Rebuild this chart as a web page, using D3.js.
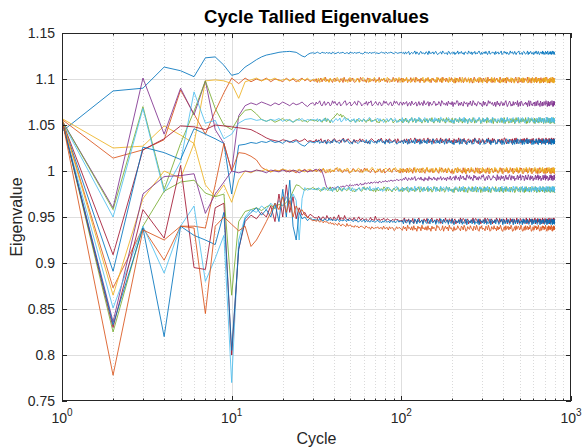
<!DOCTYPE html>
<html><head><meta charset="utf-8">
<script src="https://cdn.jsdelivr.net/npm/d3@7"></script>
<style>body{margin:0;background:#fff}svg{display:block}</style>
</head><body><svg id="c" width="582" height="448"></svg>
<script>
// ---- data ----
const colors = ["#0072BD","#D95319","#EDB120","#7E2F8E","#77AC30","#4DBEEE","#A2142F"];
const yTicks = [0.75,0.8,0.85,0.9,0.95,1,1.05,1.1,1.15];
const yTickLabels = ["0.75","0.8","0.85","0.9","0.95","1","1.05","1.1","1.15"];
const xTicks = [1,10,100,1000];
const xTickExps = ["0","1","2","3"];
const earlyCycles = d3.range(1,31);        // cycles 1..30
const midRange = [31,100], lateRange = [100,800];
const midCodeStep = 0.0007, lateCodeStep = 0.0005;   // value per code unit; code 'i' (18) = level
const levels = [1.1285,1.099,1.099,1.0735,1.055,1.0555,1.033,1.032,1.0005,1.001,0.993,0.980,0.9805,0.946,0.945,0.938];

const early0 = [1.043,1.087,1.090,1.113,1.109,1.1025,1.123,1.124,1.115,1.104,1.106,1.113,1.117,1.121,1.124,1.126,1.127,1.128,1.129,1.1295,1.1298,1.130,1.1295,1.129,1.127,1.125,1.124,1.1265,1.128,1.1285];
const early1 = [1.056,1.014,1.023,1.034,1.088,1.062,1.040,1.065,1.085,1.101,1.095,1.101,1.097,1.100,1.098,1.101,1.097,1.100,1.099,1.097,1.101,1.098,1.100,1.097,1.099,1.101,1.098,1.100,1.097,1.099];
const early2 = [1.057,1.025,1.027,1.049,1.039,1.030,1.098,1.099,1.098,1.095,1.079,1.097,1.099,1.101,1.098,1.100,1.099,1.101,1.098,1.099,1.100,1.098,1.101,1.099,1.097,1.100,1.099,1.101,1.098,1.099];
const early3 = [1.055,0.960,1.101,1.040,1.090,1.061,1.098,1.045,1.030,1.000,1.060,1.071,1.074,1.072,1.075,1.073,1.071,1.074,1.072,1.075,1.073,1.071,1.074,1.072,1.073,1.075,1.072,1.070,1.073,1.074];
const early4 = [1.055,0.958,1.070,0.980,1.030,1.065,1.098,1.068,1.050,1.045,1.058,1.066,1.067,1.062,1.056,1.054,1.056,1.053,1.055,1.057,1.054,1.056,1.053,1.055,1.057,1.054,1.055,1.053,1.056,1.055];
const early5 = [1.054,0.950,1.068,0.977,1.010,1.086,1.052,1.055,1.035,1.040,1.052,1.056,1.057,1.055,1.056,1.054,1.056,1.055,1.057,1.054,1.056,1.055,1.053,1.056,1.055,1.057,1.054,1.056,1.055,1.056];
const early6 = [1.055,0.909,1.023,1.035,1.049,1.048,1.045,1.050,1.049,1.048,1.047,1.046,1.045,1.042,1.039,1.036,1.034,1.033,1.032,1.034,1.033,1.031,1.033,1.034,1.032,1.033,1.035,1.032,1.033,1.032];
const early7 = [1.055,0.891,1.026,1.020,1.0125,1.046,1.040,1.035,1.030,0.975,1.028,1.029,1.031,1.030,1.032,1.031,1.033,1.031,1.032,1.030,1.033,1.032,1.031,1.033,1.030,1.028,1.027,1.030,1.032,1.031];
const early8 = [1.056,0.873,0.938,0.903,0.940,0.940,0.938,0.985,1.030,1.000,1.020,1.019,1.016,1.012,1.004,1.001,0.999,1.001,1.000,1.002,0.999,1.001,1.000,0.998,1.001,1.000,1.002,0.999,1.001,1.000];
const early9 = [1.057,0.865,0.970,1.000,0.992,1.030,0.985,0.972,0.985,0.966,0.990,1.000,0.998,1.001,1.000,1.002,0.999,1.001,1.000,1.002,1.001,0.999,1.001,1.000,1.002,1.000,0.999,1.001,1.002,1.000];
const early10 = [1.055,0.836,0.975,0.994,0.995,0.997,0.954,0.975,0.988,1.000,0.998,1.000,0.999,1.001,1.000,0.998,1.001,1.000,0.999,1.001,1.000,0.999,1.001,1.000,0.998,1.000,1.001,0.999,1.000,1.000];
const early11 = [1.055,0.825,0.940,0.978,0.988,0.990,0.976,0.972,0.975,0.865,0.945,0.956,0.958,0.960,0.957,0.961,0.963,0.959,0.964,0.962,0.966,0.970,0.978,0.985,0.984,0.981,0.979,0.981,0.980,0.982];
const early12 = [1.054,0.851,0.940,0.889,0.940,0.962,0.880,0.905,0.930,0.770,0.925,0.950,0.958,0.955,0.962,0.958,0.965,0.960,0.968,0.962,0.972,0.964,0.975,0.968,0.925,0.970,0.982,0.979,0.981,0.980];
const early13 = [1.055,0.830,0.958,0.927,1.006,0.895,0.893,0.960,0.965,0.800,0.915,0.945,0.952,0.948,0.955,0.950,0.962,0.945,0.975,0.950,0.985,0.955,0.972,0.948,0.960,0.952,0.955,0.949,0.953,0.951];
const early14 = [1.055,0.833,0.938,0.820,0.940,0.930,0.925,0.920,0.955,0.805,0.915,0.948,0.955,0.960,0.952,0.958,0.950,0.965,0.945,0.980,0.950,0.990,0.940,0.925,0.955,0.948,0.950,0.946,0.949,0.947];
const early15 = [1.056,0.778,0.936,0.925,0.940,0.938,0.845,0.940,0.950,0.942,0.935,0.940,0.918,0.925,0.935,0.945,0.955,0.965,0.958,0.972,0.955,0.968,0.950,0.962,0.955,0.958,0.952,0.950,0.948,0.946];

// mid section codes (cycles 31..100), one base36 char per sample
const mid0 = "hijihhjiihjhiigjihhijhiijhhiigjiihjhiijhhgijiihjhiijhihhijiihjhiijihhjihiij";
const mid1 = "gkeihlfjhmgifkhejlgihfkjemgihkfjlgehikfmjghielkfhjgkeihmfjhlgiekjhfmigkejhl";
const mid2 = "jfhlegkimfhjelgikfhmjegilkfhejmgikhfljegimkfhjelgikmfhjegkilfhmjegikfljhmeg";
const mid3 = "fkhjmgeilfhkjegmilhfjkegilmfhjkegilhfmkjegihlfkjmegilhfkjegmilhfjkegmilhfkj";
const mid4 = "hjgikhfjimgkiejlmpqtrpsnqomlkjhgijhfkigjhikgfjhlgihjkfgeihjkgfihjlkegihfjkh";
const mid5 = "ihkgjfihlgjkhfiegjkhilfgjmhikgfjhkeigljhfkighjmkfgihjlgkhiegjkfhligjkehfig";
const mid6 = "hkgjilfhjegkihfjlkghijfkmhgjlihegkfjhilgkjhfgeikljhgfjkimhgekjflihgjkelhfi";
const mid7 = "gjhkfihgjkeihfjglkhigfjkmhiljgfhekjigfhkijhglfjekihgjfkhmigjekhlfigjkhefigj";
const mid8 = "jgikhfjlhegikfhjgkmihljfgkhijefhlkgijhfkgjmilhgfjkiehgjlfhkegijmhfkligjhek";
const mid9 = "higjkfhligjehkfigjlmhkfgijhlkegfijhgklifefjhkgijmlhgfkijhegkljifhgkjmihelg";
const mid10 = "uvtusvrmg8310213021432435346547565768579687a89a8b9abab9cbacbdcbdcedcedfedfe";
const mid11 = "jhkigfjhlkigjmhfkijeglhfkjighkljfgeihjkgfimhkljgihfjekghijhmkflgihejkgilhfj";
const mid12 = "hjgkihfljgikhfjekgilmhjfgkhijlgfkhiegjkfhlijgkhmfijgkhljfiehgkjlihfgjkmheig";
const mid13 = "mnlpmjnolkqmlnkjolkmrjnlkqlkjmlkjnkilokjmkjlkiknjkipkjlikjmkilkjhjkiljkihj";
const mid14 = "lkmjnlkjmlkjnkmjlkjmlikkjlkimjlkjiljkhjkijlhkijhkijhijkhigjhkihjgkihjgikhji";
const mid15 = "usvtrusqtrsqproqnpomqnlonmkplmnkljmkliklkjhlkijgkihjikhijglhijfkhjiegkhjig";

// late section codes (cycles 100..800)
const late0 = "hjfkgilehjgimfkhejlgihfkjemgihkfjlgehikfmjghielkfhj"+"gkeihmfjhlgiekjhfmigkejhlfigkmhejfikglhejmfgikhjelg"+"ikfhjmegilhkfjgeimhjkfglheijkmfghiejlkgfhimejgklhfi"+"jegkhmifjlgehkijfmgkehilfjgkmehijflgkeihmjfgklheijg";
const late1 = "dlfjmcignekhdojfkcmgiedlhnfjckmgeidnjflcohkemgdjinf"+"ekbmhjdogifclnjehkdmgbiojfelchnkdjmgeibofkhlcjdngim"+"fhcokejdlgmbinfhjecmkgdloifbhnjekcgmdlihfojcekgbmnh"+"jdlfoceimgkbhndjflcmegioknhdfjclbmiegkhodnjcfmlgei";
const late2 = "mdkgoeihcljnfdmkhegiocjlfnedkmhgjcoilefndkjmhgcoeil"+"gbnjdmfkhcoielgdjnbkmfhcliejgodkmbhfjncelgidokfmchj"+"kegnbhdmjlcfoigkdhnemjbclfgiokdjhmencfkligbdojmhecn"+"hlcjeondgkfmbihcjlegnkdofmhbicjgleknmdfhoicjgebmlkd";
const late3 = "elgjmcikdnhfjlcgmeikdohfjmclgeinkdhfmjcolgiekdnhjfm"+"bkghondjelfcmihkbjgnedolfichmkgjdbnelhcfoimjgkdelbh"+"nfjcgmkdielohbfjnkcgdmeilhfobjkcnmgdeihlfjbkocmnegd"+"jhlcfmdkoegibnjhcldfmkegohibjndlcfkmeghojdbicnlfkme";
const late4 = "dkgnfjciloehmdkgjnfcilehmdjkgofcihlendjkgmfcoilehdn"+"hbmjfkdoglcienhjbkmfdgolcjeihnkbdmfjglcoehikdnbjmgf"+"cjhemkdlfobignhcejmdkflbhogincdjemkflhgobicjndemlhk"+"gdnbkjfmehclogidnjkbfmhecigoldjnfkbmhcegjildonfkbhm";
const late5 = "ncjhledkgnfimcjhoekdglnfjcimhekdnglfjcomhiekdgnlfjc"+"ibkmfhdnjgleocikbhmfjdgnleckiojbhfmdkgnjlecibomhfkd"+"gljcenhmbkdifogjlchemnkdbifgojclhenmkdbgjfiolcehmnk"+"djfgbmlkchoeindjgfmbklhceoidnjgfbmklchoeindjgfmkbhl";
const late6 = "fjldmhcknegiojdlfmchknegjodlifmchkngejodlfimckhnegj"+"bmhdkfoicjlgnebhkmdjfclgoiehbnkdfmjcigleohbkdnfmjgc"+"ekhlcjmdgonfbikehjlcmdgnfobikjhecldmgnfkiobjhelcdmg"+"nkfhcjmbeiogldkfnhcmjebgoilkdfhncmjbgeoilfdknhcjmbe";
const late7 = "kdmgjcnehlfkdoigjcmehlfkdnigjcomhelfkdnigjcmoehlfkd"+"gbjmfhkcoednilgbhjfmkcedonigljbfhmkcedoinglbjhfmkce"+"dnhiglbkfcjmoehdnigkbflcjmeohdingkblfcjmeohdngiklbf"+"mcjehogkdbnflimcjheogkdbnflimjchegokdbnlfimcjehogkd";
const late8 = "emgkdnhfjlcoiekmgdhnjfclogiekmdhgnjfcliokegmdhnjfcl"+"bhknfdmjgicoelbkhndfmgjicoleknbhdfmjgcioeblknhdfmgj"+"icekognbdhjflmcieokgnbdhjlfmcieokngbdhjlfmceiokgnbd"+"fjhmlcekbgnoidfjhmlcekbgniodfjhmlcekbgnoidfjhmclekb";
const late9 = "ldjfmhcnkegiodljfmhcnkegoidljfmchnkegoidlfjmhcnkegi"+"hbmkdofjlcgeinbhmkdfojlcgeinbhkmdofjclgeinbhmkdfojl"+"cegnkhbdmjlfoiecgnkhdbmjlfoiecngkhbdmjlfoiecgnkhbdm"+"jfloidcmhkebgnjflodicmhkebgnjfloidcmhkbegnjflodicmh";
const late10 = "cgdjebhfcidgkbeghdjcfaidgbkehcfjdgbiefkcgidhbjfelcg"+"hkcmgejbnfildhcokgmejfbnhldickgemjofbhkdnlgceimhjfb"+"odkhcmfjlbgneidkohcmjflbgeindkhocfmjlbgneidokhcmfjl"+"bgeindkhocmfjlbgeindkhocmfjlgbeidnkhocmfjlbgeinkdho";
const late11 = "dlgjneckhmfidlgjocekhnfimdlgjceokhnfidmlgjceokhnfid"+"jbmhkefodglicnjhbmkfeogdlicnhjmbkefodlgicnhbjmkfeod"+"gkicnelhbjmdofkigcnlehjbdmofgkicnlehjbmdofkgicnlehj"+"mfdhokbjlegcinmfhdokjbleigcnmfhdkobjleigcnmfdhokbjl";
const late12 = "mdkhfnjcleigodkmhfnjclegiodkmhfjnclegiodkmhfnjcleig"+"bjhnlfckdmeogibjhnlfkcdmeoigbjnhlfckdmeogibjhnlfkcd"+"hcmegjobkfnildhcmegjbokfnilhdcmegjobkfnildhcmegjbok"+"ekgnidmbhljfocekgnidmbhljfoceknigdmbhljfocekgnidmbh";
const late13 = "floekhmdjgnckielofhjdmkgnceilofhjdmkgnceilfohjdmkgn"+"cjmbhekgodinlfcjmbhekgodinlfjcmbhekgodinlfcjmbhekgo"+"kidnflhcmjegobkidnflhcmjegobkidnlfhcmjegobkidnflhcm"+"egjobkidnflhcmegjobkdinflhcmegjobkidnflhcmegjobkidn";
const late14 = "kdnhfjmcligeokdnhfjmcligeokdnhfjmcliegokdnhfjmclieo"+"gbjlhfmdknciegobjlhfmdkncigeobjlhfmdknciegobjlhfmdk"+"nhcekjobgmdilfnhcekjobgmdilfnhcekjbogmdilfnhcekjobg"+"mdilfnhcekjobgmdilfnhcekjobgmdilfnhcekjobgmdilfnhce";
const late15 = "dmgkcohjeldnfibmhkcogjeldnfibmgkhcojledfnbimgkcohje"+"bldhfnigcmkeojbdlhfnigcmkeojdblhnfigcmkeojbdlhfngic"+"mekgojcbhldnfimekgojbchldnfimkegojcbhldnfimekgojbch"+"ldfnimekgojcbhldfnimekgojcbhldnfimekgojcbhldfnimekg";

const earlyAll = [early0,early1,early2,early3,early4,early5,early6,early7,early8,early9,early10,early11,early12,early13,early14,early15];
const midAll = [mid0,mid1,mid2,mid3,mid4,mid5,mid6,mid7,mid8,mid9,mid10,mid11,mid12,mid13,mid14,mid15];
const lateAll = [late0,late1,late2,late3,late4,late5,late6,late7,late8,late9,late10,late11,late12,late13,late14,late15];

// ---- build series ----
// sample positions: mid samples evenly in log(cycle); late samples get denser toward the end (as real per-cycle data does)
function decodeMid(str, level) {
  const n = str.length;
  return Array.from(str, (ch, k) => [
    midRange[0] * Math.pow(midRange[1] / midRange[0], k / (n - 1)),
    level + (parseInt(ch, 36) - 18) * midCodeStep]);
}
function decodeLate(str, level) {
  const n = str.length;
  return Array.from(str, (ch, k) => {
    const t = (k + 1) / n, u = 1 - Math.pow(1 - t, 1.4);
    return [lateRange[0] * Math.pow(lateRange[1] / lateRange[0], u),
            level + (parseInt(ch, 36) - 18) * lateCodeStep];
  });
}
const series = earlyAll.map((e, i) => ({
  color: colors[i % colors.length],
  pts: e.map((v, k) => [earlyCycles[k], v])
        .concat(decodeMid(midAll[i], levels[i]))
        .concat(decodeLate(lateAll[i], levels[i]))
}));

// ---- chart ----
const svg = d3.select("#c");
const L=62, R=571, T=33, B=401;
const x = d3.scaleLog().domain([1,1000]).range([L,R]);
const y = d3.scaleLinear().domain([0.75,1.15]).range([B,T]);
const ax = "#262626";
const font = "'Liberation Sans', Arial, Helvetica, sans-serif";

svg.append("rect").attr("x",L).attr("y",T).attr("width",R-L).attr("height",B-T).attr("fill","#fff");

const minorX = [];
[1,10,100].forEach(d => { for (let k=2;k<=9;k++) minorX.push(d*k); });

const grid = svg.append("g");
grid.selectAll(".mx").data(minorX).join("line")
  .attr("x1",d=>Math.round(x(d))+0.5).attr("x2",d=>Math.round(x(d))+0.5).attr("y1",T).attr("y2",B)
  .attr("stroke","#d0d0d0").attr("stroke-width",0.8).attr("stroke-dasharray","1,2");
grid.selectAll(".gx").data(xTicks.slice(1,-1)).join("line")
  .attr("x1",d=>Math.round(x(d))+0.5).attr("x2",d=>Math.round(x(d))+0.5).attr("y1",T).attr("y2",B)
  .attr("stroke","#dedede").attr("stroke-width",1);
grid.selectAll(".gy").data(yTicks.slice(1,-1)).join("line")
  .attr("x1",L).attr("x2",R).attr("y1",d=>Math.round(y(d))+0.5).attr("y2",d=>Math.round(y(d))+0.5)
  .attr("stroke","#dedede").attr("stroke-width",1);

svg.append("clipPath").attr("id","clip").append("rect")
  .attr("x",L).attr("y",T).attr("width",R-L).attr("height",B-T);

const line = d3.line().x(d=>x(d[0])).y(d=>y(d[1]));
svg.append("g").attr("clip-path","url(#clip)")
  .selectAll("path").data(series).join("path")
  .attr("d",d=>line(d.pts)).attr("fill","none")
  .attr("stroke",d=>d.color).attr("stroke-width",0.85).attr("stroke-linejoin","round");

// box
svg.append("rect").attr("x",L+0.5).attr("y",T+0.5).attr("width",R-L-1).attr("height",B-T-1)
  .attr("fill","none").attr("stroke",ax).attr("stroke-width",1);

// ticks
const tk = svg.append("g").attr("stroke",ax).attr("stroke-width",1);
yTicks.forEach(v => {
  const yy = Math.round(y(v))+0.5;
  tk.append("line").attr("x1",L).attr("x2",L+5).attr("y1",yy).attr("y2",yy);
  tk.append("line").attr("x1",R-5).attr("x2",R).attr("y1",yy).attr("y2",yy);
});
xTicks.forEach(v => {
  const xx = Math.round(x(v))+0.5;
  tk.append("line").attr("x1",xx).attr("x2",xx).attr("y1",B).attr("y2",B-5);
  tk.append("line").attr("x1",xx).attr("x2",xx).attr("y1",T).attr("y2",T+5);
});
minorX.forEach(v => {
  const xx = Math.round(x(v))+0.5;
  tk.append("line").attr("x1",xx).attr("x2",xx).attr("y1",B).attr("y2",B-2.5);
  tk.append("line").attr("x1",xx).attr("x2",xx).attr("y1",T).attr("y2",T+2.5);
});

// tick labels
svg.append("g").selectAll("text").data(yTicks).join("text")
  .attr("x",L-7).attr("y",d=>y(d)).attr("dy","0.36em")
  .attr("text-anchor","end").attr("font-family",font).attr("font-size",14).attr("fill",ax)
  .text((d,i)=>yTickLabels[i]);

const xl = svg.append("g").selectAll("text").data(xTicks).join("text")
  .attr("x",d=>x(d)).attr("y",423)
  .attr("text-anchor","middle").attr("font-family",font).attr("font-size",14).attr("fill",ax);
xl.append("tspan").text("10");
xl.append("tspan").attr("dy",-7).attr("font-size",10).text((d,i)=>xTickExps[i]);

// labels
svg.append("text").attr("x",(L+R)/2).attr("y",23.3).attr("text-anchor","middle")
  .attr("font-family",font).attr("font-size",18.5).attr("font-weight","bold").attr("fill","#000")
  .text("Cycle Tallied Eigenvalues");
svg.append("text").attr("x",(L+R)/2).attr("y",444).attr("text-anchor","middle")
  .attr("font-family",font).attr("font-size",16).attr("fill",ax).text("Cycle");
svg.append("text").attr("transform",`translate(22,${(T+B)/2}) rotate(-90)`).attr("text-anchor","middle")
  .attr("font-family",font).attr("font-size",16).attr("fill",ax).text("Eigenvalue");
</script></body></html>
